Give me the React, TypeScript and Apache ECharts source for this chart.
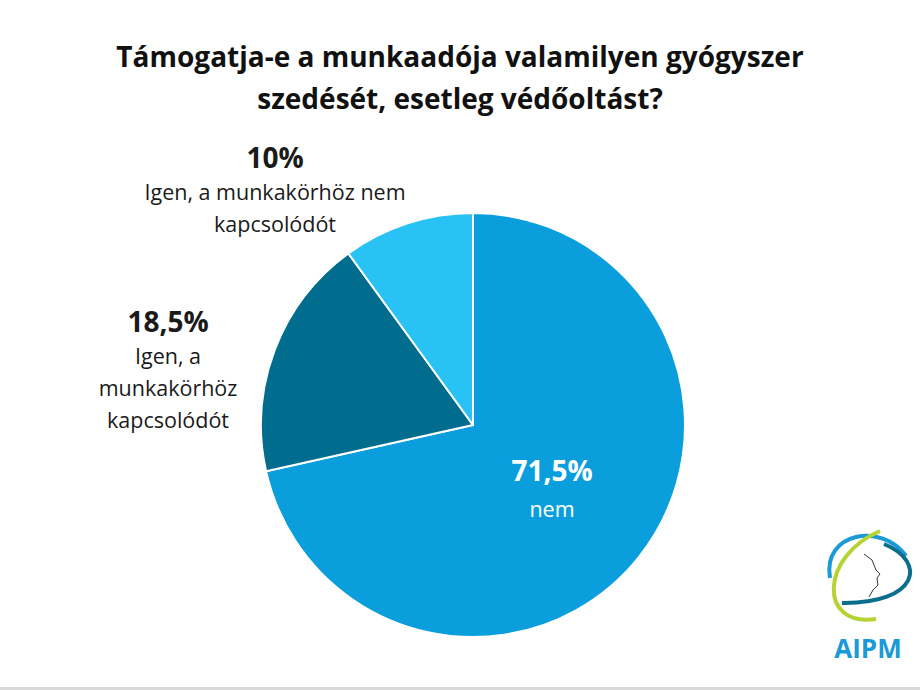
import React, { useEffect, useRef } from "react";
import * as echarts from "echarts";

const titleLines = ["Támogatja-e a munkaadója valamilyen gyógyszer", "szedését, esetleg védőoltást?"];
const categories = ["nem", "Igen, a munkakörhöz kapcsolódót", "Igen, a munkakörhöz nem kapcsolódót"];
const displayNames = ["nem", "Igen, a\nmunkakörhöz\nkapcsolódót", "Igen, a munkakörhöz nem\nkapcsolódót"];
const values = [71.5, 18.5, 10];
const valueLabels = ["71,5%", "18,5%", "10%"];
const colors = ["#0a9fdc", "#006d8f", "#28c2f4"];

const FONT = "'Open Sans', sans-serif";

export default function App() {
  const ref = useRef<HTMLDivElement>(null);
  useEffect(() => {
    if (!ref.current) return;
    const chart = echarts.init(ref.current, undefined, { renderer: "svg" });
    const labelPos = [
      { x: 552, y: 490 },
      { x: 168, y: 369 },
      { x: 275, y: 189 },
    ];
    const richFor = (c: string, nLh: number) => ({
      v: { fontFamily: FONT, fontWeight: "bold", fontSize: 28, lineHeight: 36, align: "center", color: c },
      n: { fontFamily: FONT, fontSize: 21.5, lineHeight: nLh, align: "center", color: c },
    });
    chart.setOption({
      animation: false,
      backgroundColor: "#ffffff",
      title: {
        text: titleLines.join("\n"),
        left: "center",
        top: 30,
        textStyle: {
          fontFamily: FONT,
          fontWeight: "bold",
          fontSize: 28,
          lineHeight: 42,
          color: "#111111",
        },
      },
      series: [
        {
          type: "pie",
          center: [473, 425],
          radius: 212,
          startAngle: 90,
          clockwise: true,
          silent: true,
          itemStyle: { borderColor: "#ffffff", borderWidth: 2 },
          labelLine: { show: false },
          label: {
            show: true,
            position: "inside",
            formatter: (p: any) => `{v|${valueLabels[p.dataIndex]}}\n{n|${displayNames[p.dataIndex]}}`,
          },
          labelLayout: (params: any) => ({
            x: labelPos[params.dataIndex].x,
            y: labelPos[params.dataIndex].y,
            align: "center",
            verticalAlign: "middle",
          }),
          data: categories.map((c, i) => ({
            name: c,
            value: values[i],
            itemStyle: { color: colors[i] },
            label: {
              color: i === 0 ? "#ffffff" : "#1a1a1a",
              rich: richFor(i === 0 ? "#ffffff" : "#1a1a1a", i === 0 ? 40 : 32),
            },
          })),
        },
      ],
      graphic: [
        {
          type: "bezierCurve",
          shape: { x1: 830, y1: 578, cpx1: 822, cpy1: 532, cpx2: 882, cpy2: 522, x2: 906, y2: 556 },
          style: { stroke: "#1a9ad6", lineWidth: 4, fill: null },
        },
        {
          type: "bezierCurve",
          shape: { x1: 884, y1: 544, cpx1: 928, cpy1: 562, cpx2: 918, cpy2: 604, x2: 842, y2: 603 },
          style: { stroke: "#0b6f8c", lineWidth: 4, fill: null },
        },
        {
          type: "bezierCurve",
          shape: { x1: 880, y1: 531, cpx1: 820, cpy1: 556, cpx2: 818, cpy2: 628, x2: 876, y2: 619 },
          style: { stroke: "#b6d334", lineWidth: 4, fill: null },
        },
        {
          type: "polyline",
          shape: {
            points: [
              [864, 554],
              [872, 560],
              [876, 570],
              [880, 574],
              [877, 578],
              [878, 585],
              [873, 590],
              [869, 597],
            ],
          },
          style: { stroke: "#2f3b45", lineWidth: 1, fill: null },
        },
        {
          type: "text",
          x: 868,
          y: 648,
          style: {
            text: "AIPM",
            fontFamily: FONT,
            fontWeight: "bold",
            fontSize: 26,
            fill: "#1a9ad6",
            align: "center",
            verticalAlign: "middle",
          },
        },
        {
          type: "rect",
          shape: { x: 0, y: 687, width: 920, height: 3 },
          style: { fill: "#d9d9d9" },
        },
      ],
    });
    return () => chart.dispose();
  }, []);
  return (
    <div
      ref={ref}
      style={{ position: "absolute", left: 0, top: 0, width: 920, height: 690 }}
    />
  );
}
